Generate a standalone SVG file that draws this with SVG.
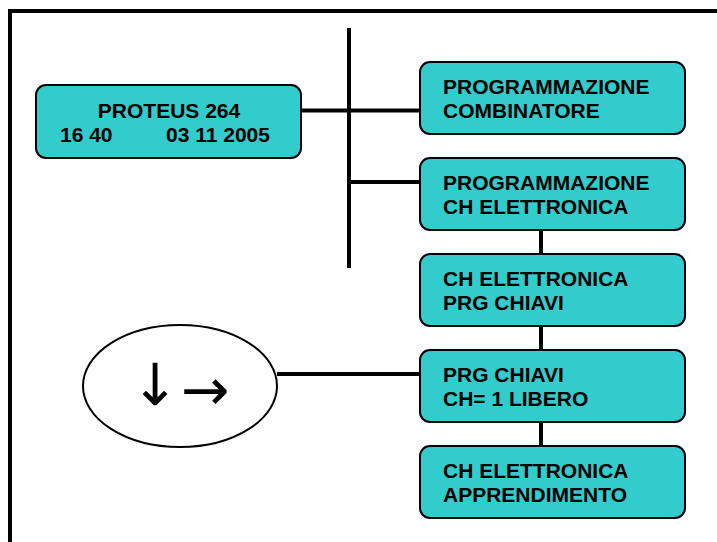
<svg xmlns="http://www.w3.org/2000/svg" width="717" height="542" viewBox="0 0 717 542">
<style>
.box{fill:#33CCCC;stroke:#000;stroke-width:2}
.t{font-family:"Liberation Sans",Arial,sans-serif;font-weight:bold;font-size:21px;fill:#000}
.c{stroke:#000;stroke-width:4;fill:none}
.a{font-family:"DejaVu Sans",sans-serif;font-size:58px;fill:#000;text-anchor:middle}
</style>
<rect width="717" height="542" fill="#fff"/>
<rect x="10" y="11" width="730" height="560" fill="none" stroke="#000" stroke-width="4"/>
<g id="connectors">
<line class="c" x1="349" y1="28" x2="349" y2="268"/>
<line class="c" x1="301" y1="110.5" x2="420" y2="110.5"/>
<line class="c" x1="349" y1="182" x2="420" y2="182"/>
<line class="c" x1="541" y1="230" x2="541" y2="254"/>
<line class="c" x1="541" y1="326" x2="541" y2="350"/>
<line class="c" x1="541" y1="422" x2="541" y2="446"/>
<line class="c" x1="277" y1="374" x2="420" y2="374"/>
</g>
<g id="proteus">
<rect class="box" x="36" y="85" width="265" height="73" rx="10"/>
<text class="t" x="169" y="118" text-anchor="middle">PROTEUS 264</text>
<text class="t" y="142"><tspan x="60">16 40</tspan><tspan x="166">03 11 2005</tspan></text>
</g>
<g id="n1">
<rect class="box" x="420" y="62" width="265" height="72" rx="10"/>
<text class="t" x="443" y="94">PROGRAMMAZIONE</text>
<text class="t" x="443" y="118">COMBINATORE</text>
</g>
<g id="n2">
<rect class="box" x="420" y="158" width="265" height="72" rx="10"/>
<text class="t" x="443" y="190">PROGRAMMAZIONE</text>
<text class="t" x="443" y="214">CH ELETTRONICA</text>
</g>
<g id="n3">
<rect class="box" x="420" y="254" width="265" height="72" rx="10"/>
<text class="t" x="443" y="286">CH ELETTRONICA</text>
<text class="t" x="443" y="310">PRG CHIAVI</text>
</g>
<g id="n4">
<rect class="box" x="420" y="350" width="265" height="72" rx="10"/>
<text class="t" x="443" y="382">PRG CHIAVI</text>
<text class="t" x="443" y="406">CH= 1 LIBERO</text>
</g>
<g id="n5">
<rect class="box" x="420" y="446" width="265" height="72" rx="10"/>
<text class="t" x="443" y="478">CH ELETTRONICA</text>
<text class="t" x="443" y="502">APPRENDIMENTO</text>
</g>
<g id="ellipse">
<ellipse cx="180" cy="386" rx="97" ry="61" fill="#fff" stroke="#000" stroke-width="2"/>
<text class="a"><tspan x="155" y="405">↓</tspan><tspan x="205" y="410">→</tspan></text>
</g>
</svg>
